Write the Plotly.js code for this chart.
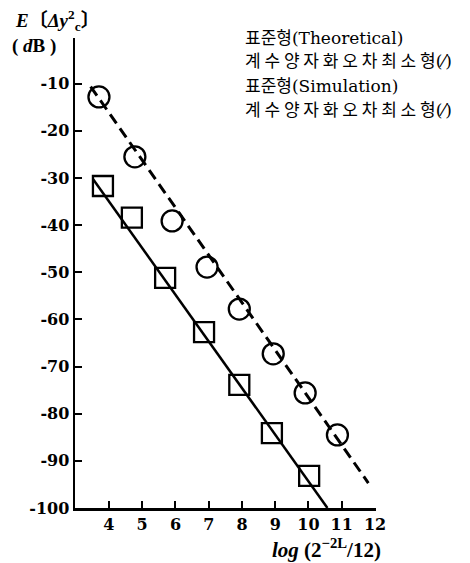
<!DOCTYPE html>
<html>
<head>
<meta charset="utf-8">
<script src="https://cdn.plot.ly/plotly-3.0.1.min.js"></script>
<style>html,body{margin:0;padding:0;background:#fff;}#chart{width:470px;height:563px;}</style>
</head>
<body>
<div id="chart"></div>
<script>
// Theoretical (dashed line) circles
var circleX = [3.7, 4.78, 5.9, 6.95, 7.92, 8.94, 9.9, 10.87];
var circleY = [-12.8, -25.5, -39.1, -48.9, -57.8, -67.3, -75.6, -84.5];
// Simulation squares
var squareX = [3.82, 4.69, 5.69, 6.86, 7.92, 8.9, 10.02];
var squareY = [-31.7, -38.4, -51.2, -62.7, -73.9, -84.1, -93.2];
// Fitted lines
var dashLineX = [3.45, 11.8];
var dashLineY = [-10.6, -94.7];
var solidLineX = [3.52, 10.57];
var solidLineY = [-30.2, -100];
// Ticks
var xTicks = [4, 5, 6, 7, 8, 9, 10, 11, 12];
var yTicks = [-10, -20, -30, -40, -50, -60, -70, -80, -90, -100];
var yTickText = ["-10", "-20", "-30", "-40", "-50", "-60", "-70", "-80", "-90", "-100"];
// Legend text lines: [Korean part, Latin part]
var legendKo = ["표준형", "계수양자화오차최소형", "표준형", "계수양자화오차최소형"];
var legendLatin = ["(Theoretical)", "(⁄)", "(Simulation)", "(⁄)"];

var tickFont = {family: "DejaVu Serif, serif", size: 16, color: "#000", weight: "bold"};
var traces = [
  {x: dashLineX, y: dashLineY, mode: "lines", line: {color: "#000", width: 3, dash: "11px,6px"}, hoverinfo: "skip"},
  {x: solidLineX, y: solidLineY, mode: "lines", line: {color: "#000", width: 2.5}, hoverinfo: "skip"},
  {x: circleX, y: circleY, mode: "markers", marker: {symbol: "circle-open", size: 21, color: "#000", line: {width: 2.3, color: "#000"}}},
  {x: squareX, y: squareY, mode: "markers", marker: {symbol: "square-open", size: 20, color: "#000", line: {width: 2.3, color: "#000"}}}
];

var annotations = [];
var legendYs = [36, 60, 84, 108];
legendKo.forEach(function (k, i) {
  var ko = (i % 2 === 0)
    ? '<span style="font-family:Noto Sans CJK KR;font-size:17px">' + k + '</span>'
    : '<span style="font-family:Noto Sans CJK KR;font-size:17px">' + k.split("").join(" ") + '</span>';
  annotations.push({
    text: ko + legendLatin[i],
    xref: "paper", yref: "paper", x: (243 - 75) / 301, y: (563 - 55 - legendYs[i]) / 470,
    xanchor: "left", yanchor: "middle", showarrow: false,
    font: {family: "DejaVu Serif, serif", size: 17, color: "#000"}
  });
});
annotations.push({
  text: "<i>E</i>〔<i>Δy</i><sup>2</sup><sub>c</sub>〕", xref: "paper", yref: "paper",
  x: (13 - 75) / 301, y: (563 - 55 - 20) / 470, xanchor: "left", yanchor: "middle", showarrow: false,
  font: {family: "Liberation Serif, Noto Sans CJK KR, serif", size: 19, color: "#000", weight: "bold"}
});
annotations.push({
  text: "( <i>d</i>B )", xref: "paper", yref: "paper",
  x: (10 - 75) / 301, y: (563 - 55 - 46) / 470, xanchor: "left", yanchor: "middle", showarrow: false,
  font: {family: "Liberation Serif, serif", size: 19, color: "#000", weight: "bold"}
});
annotations.push({
  text: "<i>log</i> (2<sup>−2L</sup>/12)", xref: "paper", yref: "paper",
  x: (270 - 75) / 301, y: (563 - 55 - 548) / 470, xanchor: "left", yanchor: "middle", showarrow: false,
  font: {family: "Liberation Serif, serif", size: 21, color: "#000", weight: "bold"}
});

var layout = {
  width: 470, height: 563,
  margin: {l: 75, r: 94, t: 38, b: 55},
  paper_bgcolor: "#fff", plot_bgcolor: "#fff",
  showlegend: false,
  xaxis: {
    range: [2.98, 12.03], tickvals: xTicks, ticktext: xTicks.map(String),
    showgrid: false, zeroline: false, showline: true, linecolor: "#000", linewidth: 2.5,
    ticks: "inside", ticklen: 7, tickwidth: 2, tickcolor: "#000", tickfont: tickFont
  },
  yaxis: {
    range: [-100, -0.3], tickvals: yTicks, ticktext: yTickText,
    showgrid: false, zeroline: false, showline: true, linecolor: "#000", linewidth: 2.5,
    ticks: "inside", ticklen: 7, tickwidth: 2, tickcolor: "#000", tickfont: tickFont
  },
  annotations: annotations
};

Plotly.newPlot("chart", traces, layout, {staticPlot: true, displayModeBar: false});
</script>
</body>
</html>
